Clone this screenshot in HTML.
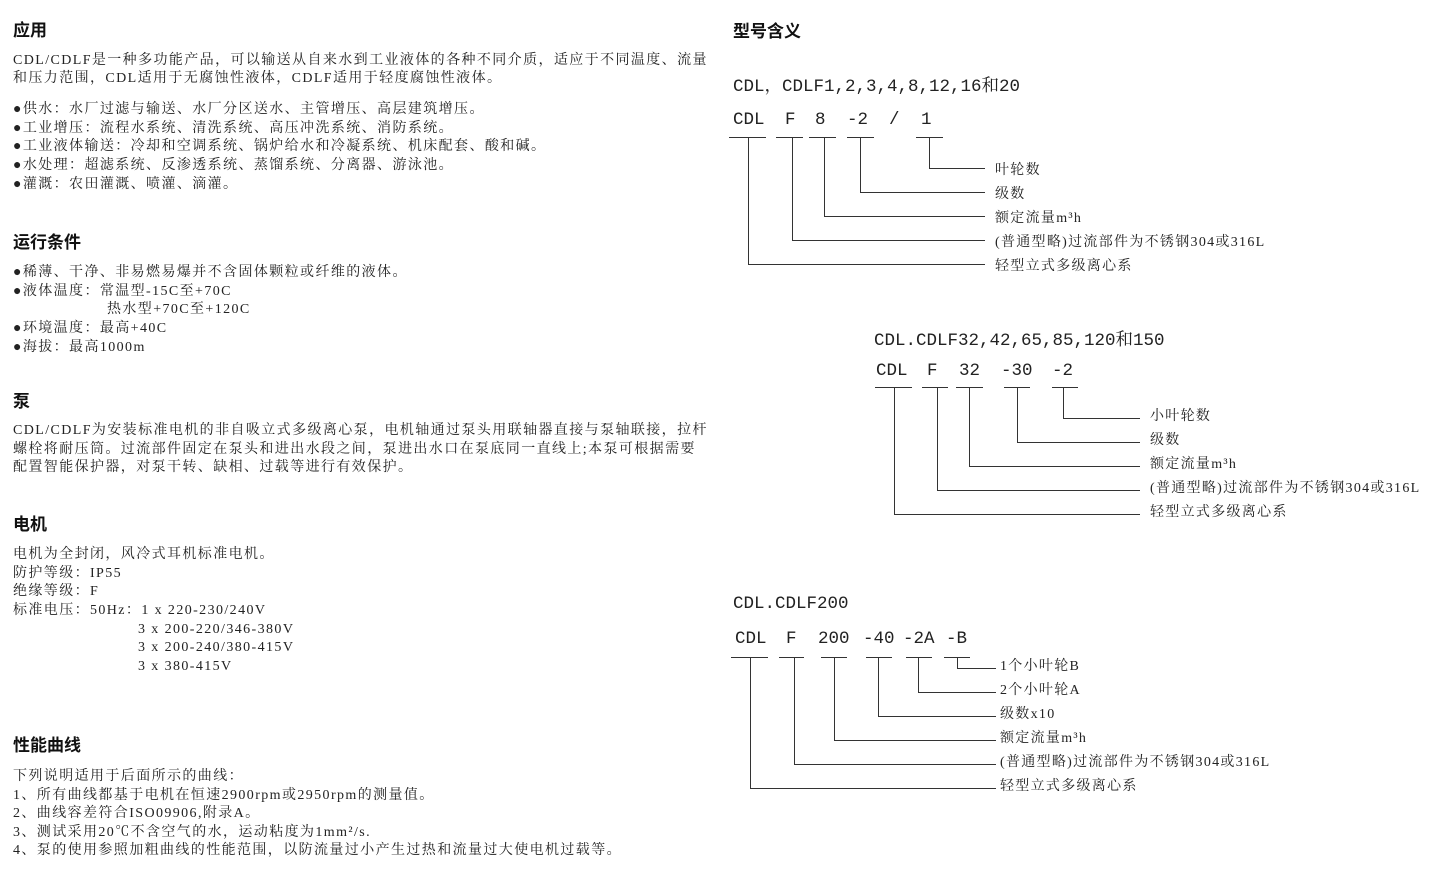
<!DOCTYPE html>
<html><head><meta charset="utf-8"><style>
body{margin:0;width:1440px;height:896px;background:#fff;position:relative;overflow:hidden;color:#222;font-family:"Liberation Serif","Noto Serif CJK SC",serif}
.t{position:absolute;white-space:nowrap;font-size:14px;letter-spacing:1.4px;line-height:18px}
.h{position:absolute;white-space:nowrap;font-family:"Liberation Sans","Noto Sans CJK SC",sans-serif;font-weight:bold;font-size:17px;line-height:20px;color:#111}
svg{position:absolute;left:0;top:0}
svg text{font-family:"Liberation Serif","Noto Serif CJK SC",serif;fill:#222}
svg text.m{font-family:"Liberation Mono","Noto Serif CJK SC",monospace}
</style></head><body>
<div class="h" style="left:13px;top:21px">应用</div>
<div class="t" style="left:13px;top:52px">CDL/CDLF是一种多功能产品，可以输送从自来水到工业液体的各种不同介质，适应于不同温度、流量</div>
<div class="t" style="left:13px;top:70px">和压力范围，CDL适用于无腐蚀性液体，CDLF适用于轻度腐蚀性液体。</div>
<div class="t" style="left:13px;top:101px">●供水：水厂过滤与输送、水厂分区送水、主管增压、高层建筑增压。</div>
<div class="t" style="left:13px;top:120px">●工业增压：流程水系统、清洗系统、高压冲洗系统、消防系统。</div>
<div class="t" style="left:13px;top:138px">●工业液体输送：冷却和空调系统、锅炉给水和冷凝系统、机床配套、酸和碱。</div>
<div class="t" style="left:13px;top:157px">●水处理：超滤系统、反渗透系统、蒸馏系统、分离器、游泳池。</div>
<div class="t" style="left:13px;top:176px">●灌溉：农田灌溉、喷灌、滴灌。</div>

<div class="h" style="left:13px;top:233px">运行条件</div>
<div class="t" style="left:13px;top:264px">●稀薄、干净、非易燃易爆并不含固体颗粒或纤维的液体。</div>
<div class="t" style="left:13px;top:283px">●液体温度：常温型-15C至+70C</div>
<div class="t" style="left:107px;top:301px">热水型+70C至+120C</div>
<div class="t" style="left:13px;top:320px">●环境温度：最高+40C</div>
<div class="t" style="left:13px;top:339px">●海拔：最高1000m</div>

<div class="h" style="left:13px;top:392px">泵</div>
<div class="t" style="left:13px;top:422px">CDL/CDLF为安装标准电机的非自吸立式多级离心泵，电机轴通过泵头用联轴器直接与泵轴联接，拉杆</div>
<div class="t" style="left:13px;top:441px">螺栓将耐压筒。过流部件固定在泵头和进出水段之间，泵进出水口在泵底同一直线上;本泵可根据需要</div>
<div class="t" style="left:13px;top:459px">配置智能保护器，对泵干转、缺相、过载等进行有效保护。</div>

<div class="h" style="left:13px;top:515px">电机</div>
<div class="t" style="left:13px;top:546px">电机为全封闭，风冷式耳机标准电机。</div>
<div class="t" style="left:13px;top:565px">防护等级：IP55</div>
<div class="t" style="left:13px;top:583px">绝缘等级：F</div>
<div class="t" style="left:13px;top:602px">标准电压：50Hz：1 x 220-230/240V</div>
<div class="t" style="left:138px;top:621px">3 x 200-220/346-380V</div>
<div class="t" style="left:138px;top:639px">3 x 200-240/380-415V</div>
<div class="t" style="left:138px;top:658px">3 x 380-415V</div>

<div class="h" style="left:13px;top:736px">性能曲线</div>
<div class="t" style="left:13px;top:768px">下列说明适用于后面所示的曲线：</div>
<div class="t" style="left:13px;top:787px">1、所有曲线都基于电机在恒速2900rpm或2950rpm的测量值。</div>
<div class="t" style="left:13px;top:805px">2、曲线容差符合ISO09906,附录A。</div>
<div class="t" style="left:13px;top:824px">3、测试采用20℃不含空气的水，运动粘度为1mm²/s.</div>
<div class="t" style="left:13px;top:842px">4、泵的使用参照加粗曲线的性能范围，以防流量过小产生过热和流量过大使电机过载等。</div>

<div class="h" style="left:733px;top:22px">型号含义</div>

<svg width="1440" height="896" viewBox="0 0 1440 896">
<g stroke="#333" stroke-width="1" fill="none">
<path d="M729 137.5H766M776 137.5H803M809 137.5H836M847 137.5H874M916 137.5H943"/>
<path d="M929.5 138V168.5H985M860.5 138V192.5H985M824.5 138V216.5H985M792.5 138V240.5H985M748.5 138V264.5H985"/>
<path d="M875 387.5H912M922 387.5H948M956 387.5H983M1004 387.5H1030M1052 387.5H1078"/>
<path d="M1063.5 388V418.5H1140M1017.5 388V442.5H1140M969.5 388V466.5H1140M937.5 388V490.5H1140M894.5 388V514.5H1140"/>
<path d="M731 657.5H768M779 657.5H804M821 657.5H847M866 657.5H892M906 657.5H932M944 657.5H970"/>
<path d="M957.5 658V668.5H996M918.5 658V692.5H996M878.5 658V716.5H996M834.5 658V740.5H996M794.5 658V764.5H996M750.5 658V788.5H996"/>
</g>
<g font-size="17.5">
<text class="m" x="733" y="91">CDL，CDLF1,2,3,4,8,12,16和20</text>
<text class="m" x="733" y="124">CDL</text><text class="m" x="785" y="124">F</text><text class="m" x="815" y="124">8</text><text class="m" x="847" y="124">-2</text><text class="m" x="889" y="124">/</text><text class="m" x="921" y="124">1</text>
<text class="m" x="874" y="345">CDL.CDLF32,42,65,85,120和150</text>
<text class="m" x="876" y="375">CDL</text><text class="m" x="927" y="375">F</text><text class="m" x="959" y="375">32</text><text class="m" x="1001" y="375">-30</text><text class="m" x="1052" y="375">-2</text>
<text class="m" x="733" y="608">CDL.CDLF200</text>
<text class="m" x="735" y="643">CDL</text><text class="m" x="786" y="643">F</text><text class="m" x="818" y="643">200</text><text class="m" x="863" y="643">-40</text><text class="m" x="903" y="643">-2A</text><text class="m" x="946" y="643">-B</text>
</g>
<g font-size="14" letter-spacing="1.3">
<text x="995" y="174">叶轮数</text>
<text x="995" y="198">级数</text>
<text x="995" y="222">额定流量m³h</text>
<text x="995" y="246">(普通型略)过流部件为不锈钢304或316L</text>
<text x="995" y="270">轻型立式多级离心系</text>
<text x="1150" y="420">小叶轮数</text>
<text x="1150" y="444">级数</text>
<text x="1150" y="468">额定流量m³h</text>
<text x="1150" y="492">(普通型略)过流部件为不锈钢304或316L</text>
<text x="1150" y="516">轻型立式多级离心系</text>
<text x="1000" y="670">1个小叶轮B</text>
<text x="1000" y="694">2个小叶轮A</text>
<text x="1000" y="718">级数x10</text>
<text x="1000" y="742">额定流量m³h</text>
<text x="1000" y="766">(普通型略)过流部件为不锈钢304或316L</text>
<text x="1000" y="790">轻型立式多级离心系</text>
</g>
</svg>
</body></html>
